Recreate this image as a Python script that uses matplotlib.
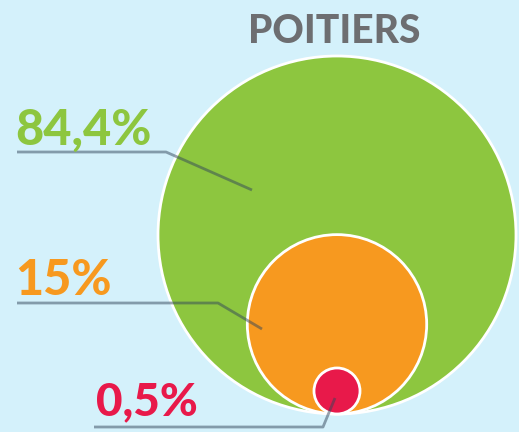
import matplotlib
matplotlib.use("Agg")
import matplotlib.pyplot as plt
from matplotlib.patches import Circle

# ---- data ----
title = "POITIERS"
categories = ["A", "B", "C"]
values = [84.4, 15.0, 0.5]
labels = ["84,4%", "15%", "0,5%"]
colors = ["#8dc63f", "#f7991f", "#e8194a"]

# ---- layout (pixel coordinates) ----
W, H = 519, 432
bg = "#d4f1fb"
cx, bottom = 337, 414
R_max = 179
exponent = 0.4

fig = plt.figure(figsize=(W / 100, H / 100), dpi=100)
fig.patch.set_facecolor(bg)
ax = fig.add_axes([0, 0, 1, 1])
ax.set_facecolor(bg)
ax.set_xlim(0, W)
ax.set_ylim(H, 0)
ax.set_aspect("equal")
ax.axis("off")

radii = [R_max * (v / values[0]) ** exponent for v in values]
for r, c in zip(radii, colors):
    ax.add_patch(Circle((cx, bottom - r), r, facecolor=c, edgecolor="white", lw=2, zorder=2))

# callouts: label position (x, baseline), elbow, anchor
label_pos = [(15, 145), (15, 295), (96, 415)]
label_size = [35, 35, 33]
line_pts = [
    [(17, 152), (166, 152), (252, 190)],
    [(17, 303), (218, 303), (262, 329)],
    [(94, 427), (323, 427), (335, 398)],
]
for lab, c, (x, y), fs, pts in zip(labels, colors, label_pos, label_size, line_pts):
    ax.text(x, y, lab, color=c, fontsize=fs, fontweight="black", family=["Lato", "DejaVu Sans"],
            ha="left", va="baseline", zorder=4)
    xs, ys = zip(*pts)
    ax.plot(xs, ys, color="#33465a", alpha=0.5, lw=2, solid_capstyle="butt", zorder=3)

ax.text(334, 43, title, color="#6d6e71", fontsize=28, fontweight="black",
        family=["Lato", "DejaVu Sans"], ha="center", va="baseline", zorder=4)

fig.savefig("out.png", dpi=100, facecolor=bg)
